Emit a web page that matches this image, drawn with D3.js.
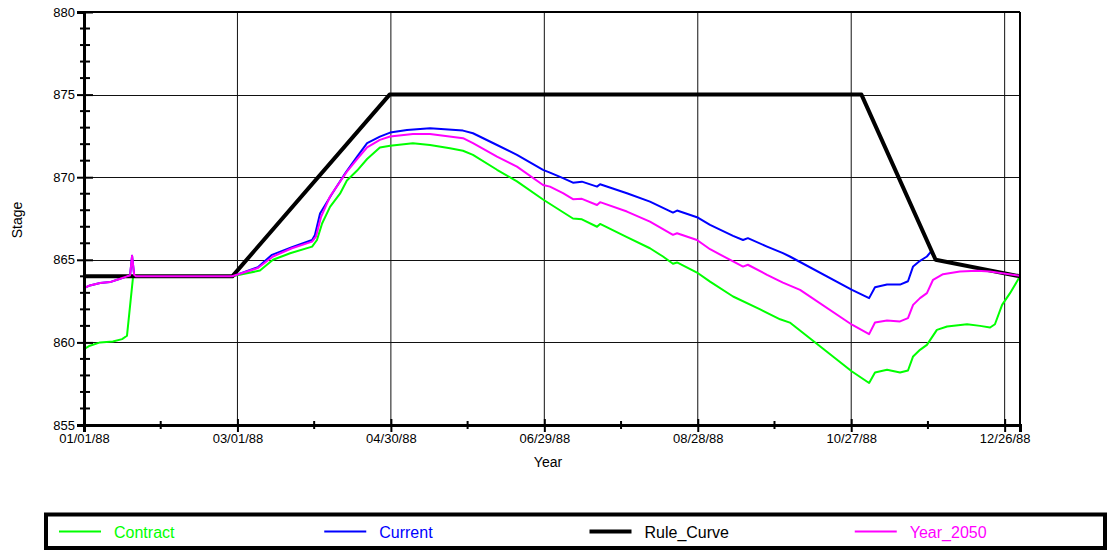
<!DOCTYPE html>
<html>
<head>
<meta charset="utf-8">
<script src="https://cdn.jsdelivr.net/npm/d3@7"></script>
<style>
body{margin:0;background:#fff;}
text{font-family:"Liberation Sans",Arial,sans-serif;}
</style>
</head>
<body>
<svg class="chart"></svg>
<script>
// tick labels and series (day = days after 01/01/88)
var xTickLabels = ['01/01/88','03/01/88','04/30/88','06/29/88','08/28/88','10/27/88','12/26/88'];
var yTicks = [855,860,865,870,875,880];
var names = ['Contract','Current','Rule_Curve','Year_2050'];

var contractDay = [0,2.3,6.3,11.3,14.9,16.8,19.2,57.9,68.8,73.9,80.6,89.2,91.1,93.1,96.2,100.1,102.8,106.8,110.7,115.7,119.7,128.6,135.3,143.1,148.2,152.1,161.5,169.3,179.5,186.1,191.2,194.7,200.6,201.8,212.3,221.3,226.4,230.3,231.9,239.7,244.8,253.8,264.4,272.2,276,300.3,307.0,309.3,314.0,319.1,322.2,324.2,326.9,329.6,333.5,337.5,345.3,350.4,354.3,356.2,359.0,362.1,366];
var contractStage = [859.6,859.8,860.0,860.05,860.2,860.4,864.0,864.0,864.35,865.0,865.4,865.8,866.2,867.2,868.2,869.0,869.8,870.4,871.1,871.8,871.9,872.05,871.95,871.75,871.6,871.35,870.45,869.75,868.65,868.0,867.5,867.45,867.0,867.17,866.37,865.7,865.2,864.76,864.84,864.23,863.68,862.78,862.0,861.4,861.2,858.24,857.54,858.18,858.34,858.18,858.3,859.15,859.55,859.85,860.76,860.96,861.1,861.0,860.9,861.1,862.27,862.98,864.0];

var currentDay = [0,2.3,6.3,10.2,14.1,16.8,18.0,18.8,19.6,20.3,57.9,68.0,73.5,81.3,89.2,90.3,92.3,97.0,102.4,106.8,110.7,115.7,119.7,126.3,135.3,148.2,152.1,161.5,169.3,179.5,182.2,187.3,191.2,194.7,200.6,201.8,212.3,221.3,230.3,231.9,239.7,244.8,253.8,257.7,259.6,267.1,273.3,276,300.3,307.0,309.3,314.0,319.1,322.2,324.2,326.9,329.6,331.2,333,366];
var currentStage = [863.28,863.45,863.6,863.65,863.85,864.0,864.05,865.24,864.1,864.0,864.0,864.55,865.3,865.77,866.2,866.5,867.8,869.0,870.3,871.25,872.06,872.46,872.7,872.86,872.96,872.82,872.66,871.95,871.35,870.44,870.28,869.94,869.67,869.73,869.43,869.57,869.03,868.52,867.86,867.98,867.58,867.11,866.45,866.2,866.31,865.8,865.4,865.2,863.18,862.68,863.34,863.5,863.5,863.7,864.6,864.94,865.2,865.5,865.0,864.0];

var ruleDay = [0,58,119.5,304,333,366];
var ruleStage = [864,864,875,875,865,864];

var year2050Day = [0,2.3,6.3,10.2,14.1,16.8,18.0,18.8,19.6,20.3,57.9,68.0,73.9,81.3,89.2,90.7,92.7,96.2,102.8,106.8,110.7,115.7,119.7,128.6,135.3,148.2,152.1,161.5,169.3,179.5,182.2,187.3,191.2,194.7,200.6,201.8,212.3,221.3,230.3,231.9,239.7,244.8,253.8,257.7,259.6,267.1,273.3,280.0,300.3,307.0,309.3,314.0,319.1,322.2,324.2,326.9,329.6,332.0,335.9,342.5,349.2,354.3,366];
var year2050Stage = [863.28,863.45,863.6,863.65,863.85,864.0,864.05,865.24,864.1,864.0,864.0,864.5,865.2,865.7,866.1,866.4,867.6,868.83,870.34,871.1,871.81,872.26,872.46,872.62,872.62,872.36,872.06,871.25,870.64,869.53,869.43,869.03,868.67,868.69,868.32,868.49,867.92,867.31,866.51,866.61,866.2,865.64,864.9,864.59,864.7,864.09,863.62,863.18,861.07,860.5,861.2,861.33,861.27,861.47,862.27,862.68,862.98,863.79,864.13,864.29,864.33,864.29,864.03];

var colors = ['#00ff00','#0000ff','#000000','#ff00ff'];

var svgwidth = 1107;
var svgheight = 550;

var margins = {
  top:12,
  bottom:125,
  left:84,
  right:87
}

var width = svgwidth - margins.left - margins.right;
var height = svgheight - margins.top - margins.bottom;

var parse = d3.utcParse('%m/%d/%y');
var fmt = d3.utcFormat('%m/%d/%y');
var startDate = parse(xTickLabels[0]);
var endDate = d3.utcDay.offset(startDate,366);

var dayToDate = function(d){
  return new Date(startDate.getTime() + d*864e5);
}

var xscale = d3.scaleUtc().domain([startDate,endDate]).range([0,width]);
var yscale = d3.scaleLinear().domain([855,880]).range([height,0]);

var svg = d3.select('.chart').attr('width',svgwidth).attr('height',svgheight);

var plot = svg.append('g').attr('transform','translate('+margins.left+','+margins.top+')');

var xTickDates = xTickLabels.map(parse);
var xMinor = xTickDates.map(function(d){ return d3.utcDay.offset(d,30); })
                       .filter(function(d){ return d < endDate; });
var yMinor = yscale.ticks(25).filter(function(d){ return d%5 != 0; });

// grid
plot.append('g').selectAll('line').data(xTickDates.slice(1)).enter().append('line')
    .attr('x1',function(d){ return xscale(d); })
    .attr('x2',function(d){ return xscale(d); })
    .attr('y1',0).attr('y2',height)
    .attr('stroke','#111').attr('stroke-width',1);

plot.append('g').selectAll('line').data(yTicks.slice(1,-1)).enter().append('line')
    .attr('x1',0).attr('x2',width)
    .attr('y1',function(d){ return Math.round(yscale(d))+0.5; })
    .attr('y2',function(d){ return Math.round(yscale(d))+0.5; })
    .attr('stroke','#111').attr('stroke-width',1);

// series
var linegen = d3.line()
  .x(function(d){ return xscale(dayToDate(d[0])); })
  .y(function(d){ return yscale(d[1]); });

var zip = function(a,b){
  return a.map(function(v,i){ return [v,b[i]]; });
}

var series = [
  zip(contractDay,contractStage),
  zip(currentDay,currentStage),
  zip(ruleDay,ruleStage),
  zip(year2050Day,year2050Stage)
];

plot.append('g').selectAll('path').data(series).enter().append('path')
    .attr('d',linegen)
    .attr('fill','none')
    .attr('stroke',function(d,i){ return colors[i]; })
    .attr('stroke-width',function(d,i){ return i==2 ? 4 : 2; })
    .attr('stroke-linejoin','round');

// frame
plot.append('line').attr('x1',0).attr('x2',width).attr('y1',0).attr('y2',0)
    .attr('stroke','#000').attr('stroke-width',2);
plot.append('line').attr('x1',width).attr('x2',width).attr('y1',0).attr('y2',height)
    .attr('stroke','#000').attr('stroke-width',2);

// axes
var yaxis = plot.append('g').call(d3.axisLeft(yscale).tickValues(yTicks).tickSize(7).tickPadding(2));
yaxis.select('.domain').attr('stroke-width',3);
yaxis.selectAll('.tick line').attr('x1',9).attr('stroke-width',2);
yaxis.selectAll('text').style('font-size','13px').attr('fill','#000');

yaxis.selectAll('.minor').data(yMinor).enter().append('line')
     .attr('x1',-4).attr('x2',6)
     .attr('y1',function(d){ return yscale(d); })
     .attr('y2',function(d){ return yscale(d); })
     .attr('stroke','#000').attr('stroke-width',2);

var xaxis = plot.append('g').attr('transform','translate(0,'+height+')')
    .call(d3.axisBottom(xscale).tickValues(xTickDates).tickFormat(fmt).tickSize(7).tickPadding(2));
xaxis.select('.domain').attr('stroke-width',3);
xaxis.selectAll('.tick line').attr('y1',-6).attr('stroke-width',2);
xaxis.selectAll('text').style('font-size','13px').attr('fill','#000');

xaxis.selectAll('.minor').data(xMinor).enter().append('line')
     .attr('x1',function(d){ return xscale(d); })
     .attr('x2',function(d){ return xscale(d); })
     .attr('y1',-4).attr('y2',4)
     .attr('stroke','#000').attr('stroke-width',2);

svg.append('text').attr('x',548).attr('y',467)
   .attr('text-anchor','middle').style('font-size','14px').text('Year');

svg.append('text').attr('transform','translate(22,220) rotate(-90)')
   .attr('text-anchor','middle').style('font-size','14px').text('Stage');

// legend
var legend = svg.append('g');
legend.append('rect').attr('x',46).attr('y',514.5).attr('width',1059).attr('height',33.5)
      .attr('fill','none').attr('stroke','#000').attr('stroke-width',4);

var legendx = d3.scaleBand().domain(names).range([59,1120]);

var items = legend.selectAll('.item').data(names).enter().append('g')
   .attr('transform',function(d){ return 'translate('+legendx(d)+',531.5)'; });

items.append('line').attr('x1',0).attr('x2',42).attr('y1',0).attr('y2',0)
     .attr('stroke',function(d,i){ return colors[i]; })
     .attr('stroke-width',function(d,i){ return i==2 ? 4 : 2; });

items.append('text').attr('x',55).attr('y',6).style('font-size','16px')
     .attr('fill',function(d,i){ return colors[i]; })
     .text(function(d){ return d; });
</script>
</body>
</html>
